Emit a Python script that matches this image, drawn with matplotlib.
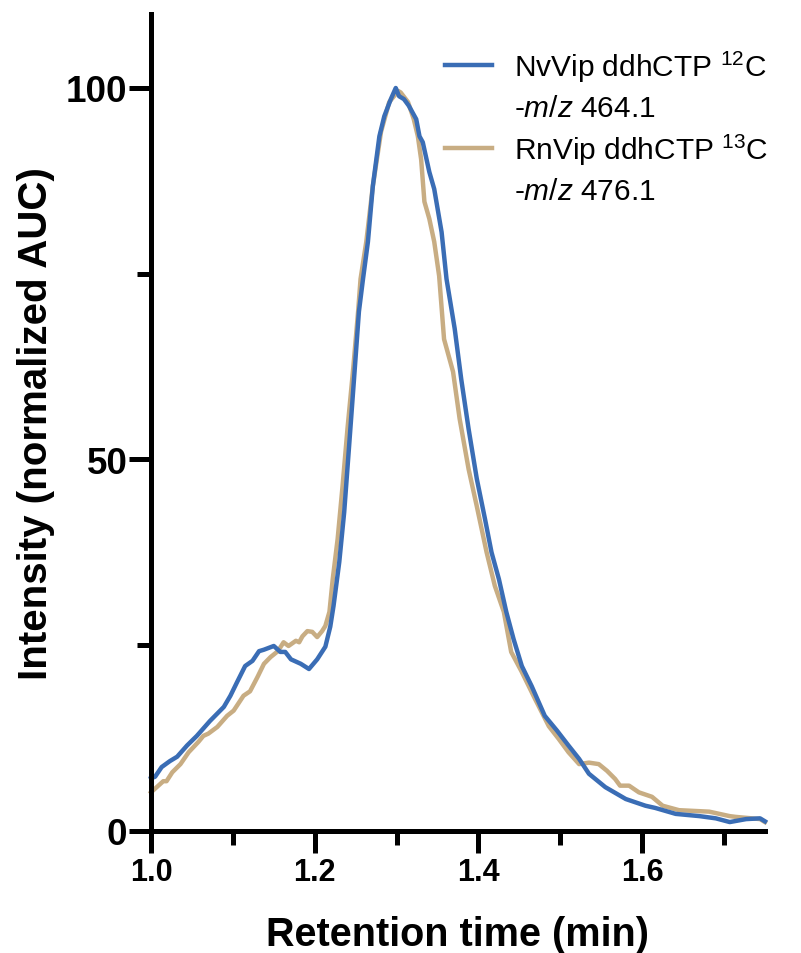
import numpy as np
import matplotlib
matplotlib.use("Agg")
import matplotlib.pyplot as plt
from matplotlib.lines import Line2D

plt.rcParams['font.family'] = ['Liberation Sans', 'DejaVu Sans']
plt.rcParams['mathtext.fontset'] = 'custom'
plt.rcParams['mathtext.rm'] = 'Liberation Sans'
plt.rcParams['mathtext.it'] = 'Liberation Sans:italic'

# NvVip ddhCTP 12C (blue)
nv_time = [1.000, 1.005, 1.013, 1.023, 1.032, 1.044, 1.056, 1.072, 1.089, 1.097,
           1.105, 1.115, 1.124, 1.132, 1.138, 1.150, 1.158, 1.164, 1.171, 1.183,
           1.193, 1.203, 1.213, 1.219, 1.223, 1.230, 1.236, 1.242, 1.248, 1.254,
           1.259, 1.265, 1.271, 1.279, 1.285, 1.293, 1.299, 1.303, 1.309, 1.315,
           1.324, 1.328, 1.332, 1.340, 1.346, 1.355, 1.361, 1.371, 1.379, 1.388,
           1.398, 1.408, 1.416, 1.425, 1.434, 1.443, 1.453, 1.465, 1.481, 1.496,
           1.510, 1.523, 1.535, 1.555, 1.580, 1.604, 1.616, 1.641, 1.670, 1.690,
           1.707, 1.727, 1.744, 1.750]
nv_int = [7.1, 7.3, 8.6, 9.4, 10.0, 11.5, 12.8, 14.8, 16.7, 18.2,
          20.0, 22.2, 22.9, 24.2, 24.4, 24.9, 24.1, 24.1, 23.1, 22.5,
          21.8, 23.1, 24.8, 27.5, 30.3, 36.2, 42.9, 51.8, 60.8, 69.9,
          74.3, 79.3, 86.8, 93.5, 96.2, 98.5, 100.0, 98.9, 98.5, 97.6,
          95.8, 93.5, 92.7, 88.7, 86.4, 80.6, 74.3, 67.6, 60.8, 54.1,
          47.4, 42.0, 37.5, 33.9, 29.5, 25.8, 22.2, 19.5, 15.5, 13.5,
          11.5, 9.7, 7.7, 5.9, 4.3, 3.4, 3.1, 2.3, 2.0, 1.7,
          1.2, 1.6, 1.7, 1.3]

# RnVip ddhCTP 13C (tan)
rn_time = [1.000, 1.009, 1.015, 1.019, 1.026, 1.036, 1.046, 1.058, 1.064, 1.070,
           1.081, 1.093, 1.101, 1.113, 1.121, 1.130, 1.138, 1.146, 1.155, 1.162,
           1.168, 1.177, 1.181, 1.185, 1.191, 1.197, 1.203, 1.209, 1.213, 1.218,
           1.222, 1.228, 1.234, 1.240, 1.247, 1.253, 1.256, 1.263, 1.271, 1.281,
           1.291, 1.302, 1.305, 1.314, 1.321, 1.326, 1.330, 1.334, 1.340, 1.346,
           1.352, 1.358, 1.369, 1.377, 1.388, 1.398, 1.410, 1.420, 1.431, 1.440,
           1.453, 1.469, 1.486, 1.498, 1.510, 1.523, 1.535, 1.547, 1.557, 1.567,
           1.573, 1.584, 1.596, 1.612, 1.625, 1.645, 1.682, 1.707, 1.714, 1.744,
           1.750]
rn_int = [5.2, 6.1, 6.7, 6.7, 7.9, 9.0, 10.6, 12.0, 12.8, 13.1,
          14.0, 15.5, 16.2, 18.2, 18.8, 20.7, 22.5, 23.4, 24.2, 25.4,
          24.9, 25.6, 25.4, 26.2, 26.9, 26.8, 26.1, 26.9, 27.6, 29.5,
          33.9, 39.3, 46.4, 54.1, 62.2, 69.9, 74.3, 79.3, 86.8, 94.1,
          98.1, 99.6, 99.4, 98.1, 95.8, 93.5, 90.4, 84.7, 82.4, 79.3,
          74.7, 66.2, 61.8, 55.5, 48.7, 43.7, 37.5, 33.0, 29.5, 24.1,
          21.4, 17.8, 14.1, 12.4, 10.6, 9.0, 9.2, 9.0, 8.1, 7.0,
          6.1, 6.1, 5.2, 4.6, 3.4, 2.8, 2.6, 2.0, 1.9, 1.6,
          1.2]

legend_lines = ['NvVip ddhCTP $^{12}$C', '-$\\it{m/z}$ 464.1',
                'RnVip ddhCTP $^{13}$C', '-$\\it{m/z}$ 476.1']
blue = '#3a6db5'
tan = '#c8ad83'

fig = plt.figure(figsize=(8.01, 9.54), dpi=100)
ax = fig.add_axes([0.1885, 0.1279, 0.7665, 0.8567])

ax.plot(rn_time, rn_int, color=tan, lw=3.2, clip_on=False)
ax.plot(nv_time, nv_int, color=blue, lw=3.2, clip_on=False)

ax.set_xlim(1.0, 1.75)
ax.set_ylim(0, 110)
for s in ['top', 'right']:
    ax.spines[s].set_visible(False)
for s in ['left', 'bottom']:
    ax.spines[s].set_linewidth(3.6)

ax.set_xticks([1.0, 1.2, 1.4, 1.6])
ax.set_xticklabels(['1.0', '1.2', '1.4', '1.6'])
ax.set_xticks([1.1, 1.3, 1.5, 1.7], minor=True)
ax.set_yticks([0, 50, 100])
ax.set_yticks([25, 75], minor=True)
ax.tick_params(axis='both', which='major', length=16, width=3.6, direction='out')
ax.tick_params(axis='both', which='minor', length=10, width=3.6, direction='out')
ax.tick_params(axis='x', labelsize=22, pad=3)
ax.tick_params(axis='y', labelsize=26.5, pad=1)
for lab in ax.get_xticklabels() + ax.get_yticklabels():
    lab.set_fontweight('bold')

ax.set_xlabel('Retention time (min)', fontsize=28.5, fontweight='bold', labelpad=20)
ax.set_ylabel('Intensity (normalized AUC)', fontsize=29, fontweight='bold', labelpad=8)

handles = [Line2D([], [], color=blue, lw=3.2), Line2D([], [], color='none'),
           Line2D([], [], color=tan, lw=3.2), Line2D([], [], color='none')]
fig.legend(handles, legend_lines, loc='upper left', bbox_to_anchor=(0.556, 0.948),
           frameon=False, fontsize=21.5, handlelength=1.55, handletextpad=0.75,
           labelspacing=0.33, borderpad=0, borderaxespad=0)

fig.savefig('out.png', dpi=100)
